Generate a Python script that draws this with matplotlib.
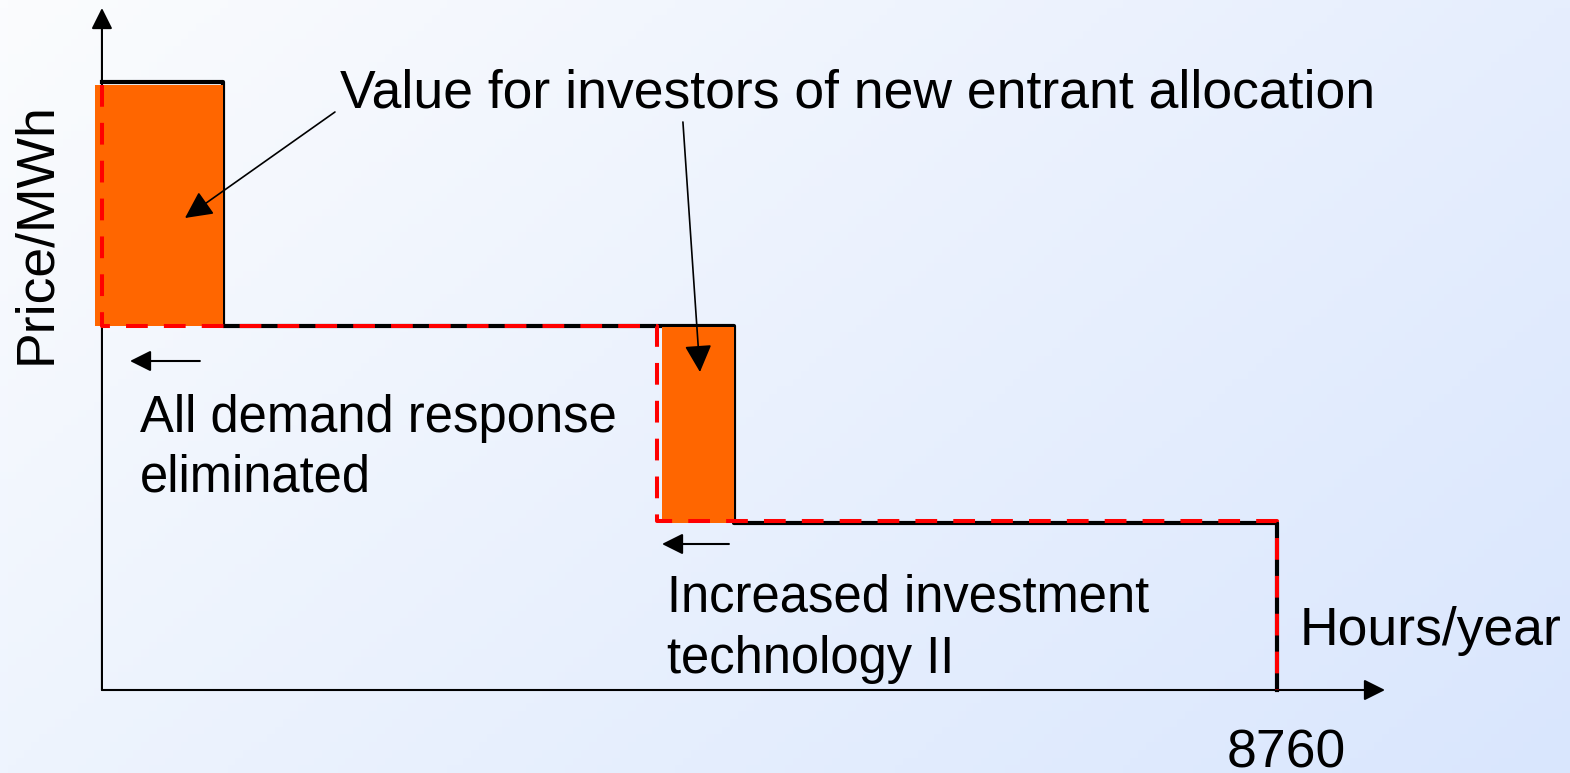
import numpy as np
import matplotlib
matplotlib.use('Agg')
import matplotlib.pyplot as plt
from matplotlib.patches import Rectangle

plt.rcParams['font.family'] = ['Liberation Sans', 'DejaVu Sans']

# step curve before (black) and after (red dashed), hours / price
black_hours = [0, 900, 900, 4710, 4710, 8760, 8760]
black_price = [121.6, 121.6, 72.8, 72.8, 33.4, 33.4, 0]
red_hours = [0, 0, 4140, 4140, 8760, 8760]
red_price = [121.0, 72.8, 72.8, 33.8, 33.8, 0]

# value blocks (hour start, hour end, price low, price high)
blocks = [(-50, 900, 72.8, 121.0), (4175, 4710, 33.4, 72.6)]

xlim = (-760, 10944)
ylim = (-16.6, 138)

fig = plt.figure(figsize=(15.7, 7.73), dpi=100)
ax = fig.add_axes([0, 0, 1, 1])
ax.set_xlim(*xlim)
ax.set_ylim(*ylim)
ax.axis('off')

# background gradient
tl = np.array([251, 252, 254]) / 255
tr = np.array([230, 238, 253]) / 255
bl = np.array([238, 244, 254]) / 255
xs = np.linspace(0, 1, 200)[None, :, None]
ys = np.linspace(0, 1, 100)[:, None, None]
grad = tl + xs * (tr - tl) + ys * (bl - tl)
ax.imshow(np.clip(grad, 0, 1), extent=[xlim[0], xlim[1], ylim[0], ylim[1]],
          aspect='auto', zorder=0, origin='upper')

# axes arrows
arrow = dict(arrowstyle='-|>', color='black', lw=1.5, mutation_scale=32,
             shrinkA=0, shrinkB=0)
ax.annotate('', xy=(0, 136.4), xytext=(0, 0), arrowprops=arrow, zorder=2)
ax.annotate('', xy=(9565, 0), xytext=(0, 0), arrowprops=arrow, zorder=2)

ax.plot(black_hours, black_price, color='black', lw=3.0, zorder=3,
        solid_joinstyle='round')
for x0, x1, y0, y1 in blocks:
    ax.add_patch(Rectangle((x0, y0), x1 - x0, y1 - y0, facecolor='#ff6600',
                           edgecolor='none', zorder=4))
ax.plot(red_hours, red_price, color='#ff0000', lw=2.9,
        linestyle=(0, (5.4, 4.0)), zorder=5)

fs = 38.5
fs2 = 36.5
ax.text(1774, 116.6, 'Value for investors of new entrant allocation',
        fontsize=fs, va='baseline', zorder=6)
ax.annotate('', xy=(619, 94.4), xytext=(1737, 115.6), arrowprops=dict(
    arrowstyle='-|>', color='black', lw=1.2, mutation_scale=42,
    shrinkA=0, shrinkB=0), zorder=6)
ax.annotate('', xy=(4458, 63.6), xytext=(4331, 113.6), arrowprops=dict(
    arrowstyle='-|>', color='black', lw=1.2, mutation_scale=42,
    shrinkA=0, shrinkB=0), zorder=6)

ax.annotate('', xy=(209, 65.8), xytext=(730, 65.8), arrowprops=arrow, zorder=6)
ax.annotate('', xy=(4175, 29.2), xytext=(4674, 29.2), arrowprops=arrow, zorder=6)

ax.text(283, 51.6, 'All demand response', fontsize=fs2, va='baseline')
ax.text(283, 39.6, 'eliminated', fontsize=fs2, va='baseline')
ax.text(4212, 15.6, 'Increased investment', fontsize=fs2, va='baseline')
ax.text(4212, 3.4, 'technology II', fontsize=fs2, va='baseline')
ax.text(8931, 9.0, 'Hours/year', fontsize=fs, va='baseline')
ax.text(8830, -15.4, '8760', fontsize=fs, va='baseline', ha='center')
ax.text(-490, 91.4, 'Price/MWh', fontsize=fs, rotation=90,
        ha='center', va='center')

fig.savefig('out.png', dpi=100)
